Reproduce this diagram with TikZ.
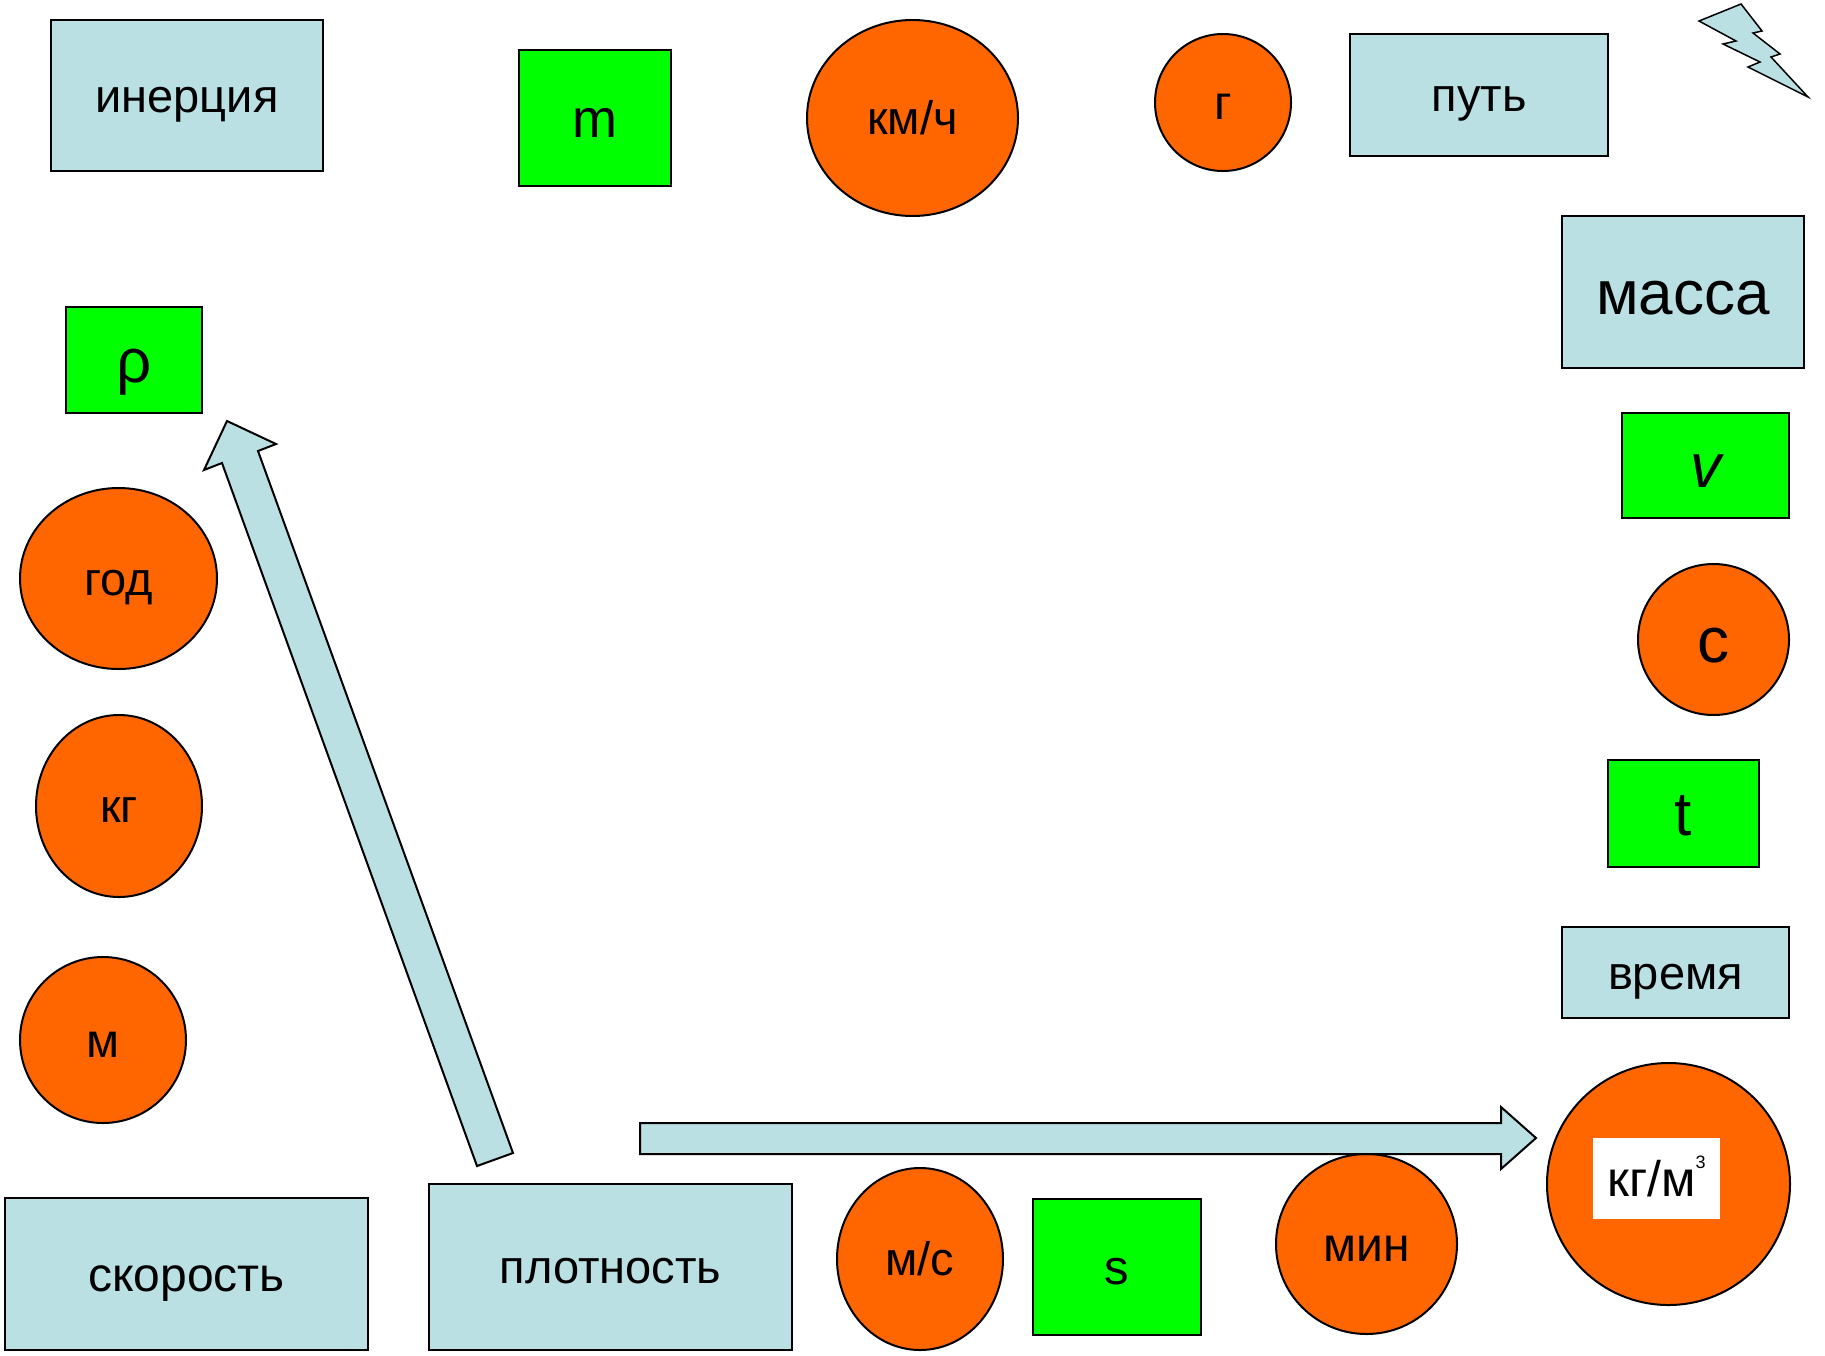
\documentclass[tikz,border=0pt]{standalone}
\usepackage{fontspec}
\setmainfont{Liberation Sans}
\usetikzlibrary{shapes}
\definecolor{cardblue}{HTML}{BBE0E3}
\definecolor{unitorange}{HTML}{FF6600}
\definecolor{symgreen}{HTML}{00FF00}
% size, then text; the box is kept the same whatever the descenders
\newcommand\lbl[2]{\fontsize{#1}{#1}\selectfont\vrule width 0pt height .8em depth .08em\smash{#2}}

\begin{document}
\begin{tikzpicture}[x=1pt,y=-1pt,line width=2pt,
  word/.style={draw,fill=cardblue,inner sep=0pt},
  sym/.style={draw,fill=symgreen,inner sep=0pt},
  unit/.style={draw,fill=unitorange,ellipse,inner sep=0pt},
  blockarrow/.style={draw,fill=cardblue,line join=miter}]
\useasboundingbox (0,0) rectangle (1825,1355);
% words
\node[word,minimum width=272pt,minimum height=151pt] (inert) at (187,95.5) {\lbl{47}{инерция}};
\node[word,minimum width=258pt,minimum height=122pt] (path) at (1479,95) {\lbl{47}{путь}};
\node[word,minimum width=242pt,minimum height=152pt] (mass) at (1683,292) {\lbl{62}{масса}};
\node[word,minimum width=227pt,minimum height=91pt] (time) at (1675.5,972.5) {\lbl{47}{время}};
\node[word,minimum width=363pt,minimum height=152pt] (speed) at (186.5,1274) {\lbl{48}{скорость}};
\node[word,minimum width=363pt,minimum height=166pt] (dens) at (610.5,1267) {\lbl{47}{плотность}};
% symbols
\node[sym,minimum width=152pt,minimum height=136pt] (msym) at (595,118) {\lbl{54}{m}};
\node[sym,minimum width=136pt,minimum height=106pt] (rho) at (134,360) {\lbl{62}{ρ}};
\node[sym,minimum width=167pt,minimum height=105pt] (vsym) at (1705.5,465.5) {\lbl{62}{\itshape v}};
\node[sym,minimum width=151pt,minimum height=107pt] (tsym) at (1683.5,813.5) {\lbl{62}{t}};
\node[sym,minimum width=168pt,minimum height=136pt] (ssym) at (1117,1267) {\lbl{49}{s}};
% units
\node[unit,minimum width=211pt,minimum height=196pt] (kmh) at (912.5,118) {\lbl{47}{км/ч}};
\node[unit,minimum width=136pt,minimum height=137pt] (gram) at (1223,102.5) {\lbl{48}{г}};
\node[unit,minimum width=197pt,minimum height=181pt] (year) at (118.5,578.5) {\lbl{47}{год}};
\node[unit,minimum width=166pt,minimum height=182pt] (kg) at (119,806) {\lbl{47}{кг}};
\node[unit,minimum width=166pt,minimum height=166pt] (metre) at (103,1040) {\lbl{48}{м}};
\node[unit,minimum width=151pt,minimum height=151pt] (sec) at (1713.5,639.5) {\lbl{64}{с}};
\node[unit,minimum width=166pt,minimum height=182pt] (mps) at (920,1259) {\lbl{47}{м/с}};
\node[unit,minimum width=181pt,minimum height=180pt] (minute) at (1366.5,1244) {\lbl{48}{мин}};
\node[unit,minimum width=243pt,minimum height=242pt] (kgm) at (1668.5,1184) {};
\node[fill=white,minimum width=127pt,minimum height=81pt,inner sep=0pt] (kgmlabel) at (1656.5,1178.5)
  {\lbl{50}{кг/м\raisebox{.56em}{\fontsize{18}{18}\selectfont 3}}};
% block arrows
\draw[blockarrow] (477,1166) -- (222,463) -- (204,470) -- (227,421) -- (276,444) -- (258,451) -- (513,1153) -- cycle;
\draw[blockarrow] (640,1123) -- (1501,1123) -- (1501,1107) -- (1536,1138) -- (1501,1169) -- (1501,1154) -- (640,1154) -- cycle;
% lightning
\draw[blockarrow,line width=1.5pt] (1699,21) -- (1741,4) -- (1762,31) -- (1753,33) -- (1780,54) -- (1771,57) -- (1808,97) -- (1748,67) -- (1760,62) -- (1723,44) -- (1736,41) -- cycle;
\end{tikzpicture}
\end{document}
